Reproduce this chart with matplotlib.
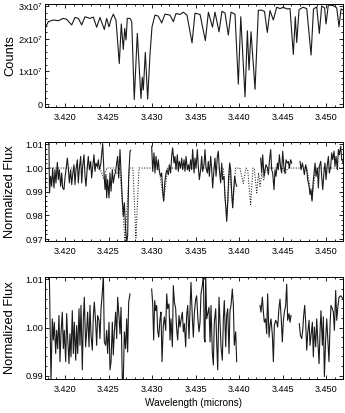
import numpy as np
import matplotlib
matplotlib.use("Agg")
import matplotlib.pyplot as plt
from matplotlib.ticker import MultipleLocator, FuncFormatter, FormatStrFormatter

plt.rcParams['font.family'] = ['Liberation Sans', 'DejaVu Sans']
plt.rcParams['mathtext.fontset'] = 'custom'
plt.rcParams['mathtext.rm'] = 'Liberation Sans'

nan = float('nan')

# --- top panel: raw counts (units of 1e7) ---
wl_counts = [3.41770, 3.41808, 3.41865, 3.41923, 3.41980, 3.42019, 3.42077, 3.42115, 3.42153, 3.42192,
             3.42230, 3.42287, 3.42325, 3.42364, 3.42402, 3.42452, 3.42479, 3.42506, 3.42529, 3.42555,
             3.42586, 3.42624, 3.42647, 3.42670, 3.42686, 3.42701, 3.42716, 3.42747, 3.42767, 3.42796,
             3.42831, 3.42873, 3.42888, 3.42900, 3.42923, 3.42950, 3.42977, 3.43000, 3.43034, 3.43072,
             3.43111, 3.43149, 3.43207, 3.43245, 3.43276, 3.43322, 3.43360, 3.43402, 3.43460, 3.43494,
             3.43552, 3.43613, 3.43648, 3.43695, 3.43724, 3.43770, 3.43804, 3.43839, 3.43877, 3.43908,
             3.43954, 3.43992, 3.44020, 3.44069, 3.44096, 3.44115, 3.44138, 3.44184, 3.44222, 3.44264,
             3.44293, 3.44325, 3.44356, 3.44394, 3.44433, 3.44471, 3.44509, 3.44551, 3.44586, 3.44624,
             3.44647, 3.44663, 3.44690, 3.44736, 3.44778, 3.44828, 3.44856, 3.44893, 3.44923, 3.44950,
             3.44983, 3.45000, 3.45026, 3.45084, 3.45123, 3.45149, 3.45172, 3.45195]
counts_e7 = [2.31, 2.52, 2.57, 2.55, 2.62, 2.59, 2.42, 2.65, 2.62, 2.42,
             2.67, 2.62, 2.66, 2.35, 2.65, 2.28, 2.62, 2.36, 2.59, 2.75,
             2.57, 1.24, 2.45, 1.67, 2.31, 1.96, 2.62, 2.62, 2.52, 0.14,
             2.16, 0.17, 0.82, 0.43, 1.58, 0.15, 1.53, 2.36, 2.72, 2.69,
             2.48, 2.75, 2.72, 2.52, 2.77, 2.74, 2.81, 2.72, 1.87, 2.78,
             2.74, 1.94, 2.81, 2.35, 2.81, 2.21, 2.84, 2.78, 2.11, 2.81,
             2.75, 0.61, 2.67, 0.22, 2.24, 1.04, 2.21, 0.45, 2.87, 2.87,
             2.83, 2.19, 2.86, 2.57, 2.96, 2.92, 2.96, 2.91, 2.92, 1.52,
             2.67, 1.88, 2.89, 2.96, 2.92, 1.50, 2.91, 2.97, 2.16, 3.00,
             2.94, 2.45, 3.03, 3.01, 2.94, 2.36, 2.91, 2.87]

# --- middle panel: normalized observed flux (nan = gap) ---
wl_obs = [3.41815, 3.41822, 3.41835, 3.41847, 3.41858, 3.41873, 3.41885, 3.41896, 3.41912, 3.41923,
          3.41935, 3.41950, 3.41962, 3.41973, 3.41988, 3.42000, 3.42011, 3.42027, 3.42038, 3.42050,
          3.42065, 3.42077, 3.42088, 3.42103, 3.42115, 3.42126, 3.42142, 3.42153, 3.42165, 3.42180,
          3.42192, 3.42203, 3.42218, 3.42230, 3.42241, 3.42257, 3.42268, 3.42280, 3.42295, 3.42306,
          3.42318, 3.42333, 3.42345, 3.42356, 3.42372, 3.42383, 3.42395, 3.42410, 3.42421, 3.42433,
          3.42448, 3.42460, 3.42471, 3.42479, 3.42490, 3.42506, 3.42517, 3.42529, 3.42544, 3.42555,
          3.42567, 3.42582, 3.42594, 3.42605, 3.42617, 3.42632, 3.42644, 3.42659, 3.42670, 3.42682,
          3.42697, 3.42709, 3.42720, 3.42732, 3.42747, 3.42755, nan,
          3.42996, 3.43008, 3.43023, 3.43034, 3.43046, 3.43061, 3.43073, 3.43084, 3.43100, 3.43111,
          3.43123, 3.43134, 3.43146, 3.43161, 3.43172, 3.43188, 3.43199, 3.43214, 3.43226, 3.43237,
          3.43253, 3.43264, 3.43276, 3.43291, 3.43303, 3.43314, 3.43329, 3.43341, 3.43352, 3.43368,
          3.43379, 3.43391, 3.43406, 3.43418, 3.43429, 3.43444,
          3.43456, 3.43467, 3.43483, 3.43494, 3.43506, 3.43521, 3.43532, 3.43544, 3.43559, 3.43571,
          3.43582, 3.43598, 3.43609, 3.43621, 3.43636, 3.43647, 3.43659, 3.43674, 3.43686, 3.43697,
          3.43713, 3.43724, 3.43736, 3.43751, 3.43762, 3.43774, 3.43789, 3.43801, 3.43812, 3.43828,
          3.43839, 3.43851, 3.43858, 3.43870, 3.43881, 3.43893, 3.43904, 3.43916, 3.43927, 3.43939,
          3.43950, 3.43962, 3.43973, nan,
          3.44249, 3.44261, 3.44272, 3.44287, 3.44299, 3.44310, 3.44326, 3.44337, 3.44349, 3.44364,
          3.44375, 3.44387, 3.44402, 3.44414, 3.44425, 3.44441, 3.44452, 3.44464, 3.44479, 3.44490,
          3.44502, 3.44517, 3.44529, 3.44540, 3.44555, 3.44567, 3.44578, 3.44594, 3.44605, nan,
          3.44701, 3.44713, 3.44728, 3.44739, 3.44751, 3.44766, 3.44778, 3.44789, 3.44805, 3.44816,
          3.44828, 3.44839, 3.44851, 3.44862, 3.44874, 3.44885, 3.44900, 3.44912, 3.44923, 3.44939,
          3.44950, 3.44962, 3.44977, 3.44988, 3.45000, 3.45015, 3.45027, 3.45038, 3.45054, 3.45065,
          3.45077, 3.45092, 3.45103, 3.45115, 3.45130, 3.45142, 3.45153, 3.45169, 3.45180, 3.45199]
flux_obs = [1.0108, 0.9895, 0.9965, 0.9923, 1.0000, 0.9916, 0.9993, 0.9937, 1.0024, 0.9951,
            0.9993, 0.9923, 0.9979, 0.9916, 0.9909, 0.9958, 0.9993, 1.0042, 1.0000, 0.9937,
            0.9993, 0.9930, 0.9972, 1.0014, 0.9930, 0.9993, 1.0035, 0.9937, 1.0000, 1.0049,
            0.9937, 1.0007, 1.0056, 0.9965, 0.9923, 1.0007, 1.0049, 0.9993, 1.0028, 0.9958,
            1.0000, 1.0056, 0.9986, 1.0021, 1.0005, 1.0035, 0.9993, 1.0014, 1.0056, 1.0103,
            0.9979, 0.9909, 0.9972, 0.9874, 0.9951, 0.9874, 0.9979, 0.9902, 0.9993, 0.9937,
            0.9965, 0.9986, 1.0021, 1.0049, 0.9958, 1.0078, 0.9979, 0.9867, 0.9797, 0.9853,
            0.9741, 0.9687, 0.9713, 0.9965, 1.0071, 1.0075, nan,
            1.0092, 0.9986, 1.0064, 0.9979, 1.0049, 0.9993, 1.0035, 0.9986, 0.9965, 0.9979,
            0.9902, 0.9860, 0.9937, 0.9979, 0.9993, 0.9972, 1.0014, 0.9979, 1.0049, 1.0085,
            1.0021, 1.0049, 0.9993, 1.0056, 0.9986, 1.0028, 1.0000, 1.0042, 0.9993, 1.0035,
            0.9986, 1.0049, 0.9993, 1.0014, 0.9986, 1.0035,
            0.9993, 1.0078, 0.9979, 1.0042, 1.0000, 1.0078, 1.0007, 0.9951, 0.9993, 1.0049,
            0.9986, 1.0014, 1.0078, 1.0000, 0.9979, 1.0028, 0.9965, 1.0049, 0.9993, 0.9916,
            1.0000, 1.0042, 0.9965, 1.0049, 1.0071, 0.9993, 0.9937, 1.0021, 0.9951, 0.9965,
            0.9874, 0.9825, 0.9776, 0.9853, 0.9965, 1.0021, 0.9993, 0.9895, 0.9832, 0.9909,
            0.9965, 0.9937, 0.9923, nan,
            1.0042, 0.9979, 1.0056, 0.9965, 0.9993, 1.0014, 1.0000, 0.9972, 1.0028, 1.0078,
            0.9993, 0.9979, 0.9909, 0.9993, 0.9965, 1.0021, 0.9993, 1.0056, 1.0000, 0.9979,
            1.0071, 1.0000, 0.9979, 1.0035, 1.0021, 1.0028, 1.0000, 1.0035, 1.0021, nan,
            1.0028, 0.9993, 1.0021, 1.0000, 0.9972, 1.0014, 0.9993, 0.9951, 0.9923, 0.9888,
            0.9909, 0.9860, 0.9937, 0.9979, 1.0021, 0.9965, 1.0000, 0.9916, 1.0007, 1.0028,
            0.9965, 0.9909, 0.9986, 1.0021, 0.9951, 1.0014, 1.0049, 0.9979, 1.0007, 1.0064,
            1.0035, 1.0071, 1.0007, 1.0049, 0.9993, 1.0078, 1.0056, 1.0092, 1.0035, 1.0021]

# --- middle panel: model (dotted) ---
wl_model = [3.41770, 3.42400, 3.42445, 3.42480, 3.42560, 3.42595, 3.42630, 3.42690, 3.42740, 3.42780,
            3.42815, 3.42850, 3.43080, 3.43134, 3.43180, 3.43820, 3.43858, 3.43893, 3.43927, 3.43960,
            3.44010, 3.44049, 3.44080, 3.44100, 3.44134, 3.44160, 3.44176, 3.44203, 3.44225, 3.44241,
            3.44262, 3.44285, 3.44305, 3.44330, 3.44500, 3.44530, 3.44560, 3.44780, 3.44839, 3.44880,
            3.45195]
flux_model = [1.0, 1.0, 0.9955, 1.0, 1.0, 0.9975, 1.0, 0.9690, 1.0, 1.0,
              0.9705, 1.0, 1.0, 0.9860, 1.0, 1.0, 0.9776, 0.9995, 0.9832, 1.0,
              1.0, 0.9935, 1.0, 0.9990, 0.9846, 1.0, 0.9995, 0.9895, 0.9980, 0.9923,
              0.9975, 0.9950, 0.9990, 1.0, 1.0, 0.9975, 1.0, 1.0, 0.9865, 1.0,
              1.0]

# --- bottom panel: corrected flux (nan = gap) ---
wl_corr = [3.41820, 3.41839, 3.41854, 3.41866, 3.41877, 3.41893, 3.41904, 3.41916, 3.41931, 3.41942,
           3.41954, 3.41969, 3.41981, 3.41992, 3.42008, 3.42019, 3.42031, 3.42046, 3.42057, 3.42069,
           3.42084, 3.42096, 3.42107, 3.42123, 3.42134, 3.42146, 3.42161, 3.42172, 3.42184, 3.42199,
           3.42211, 3.42222, 3.42237, 3.42249, 3.42260, 3.42276, 3.42287, 3.42299, 3.42314, 3.42326,
           3.42337, 3.42352, 3.42364, 3.42375, 3.42391, 3.42402, 3.42414, 3.42429, 3.42441, 3.42452,
           3.42467, 3.42479, 3.42490, 3.42506, 3.42517, 3.42529, 3.42544, 3.42555, 3.42567, 3.42582,
           3.42594, 3.42605, 3.42621, 3.42632, 3.42644, 3.42659, 3.42670, 3.42682, 3.42697, 3.42709,
           3.42720, 3.42732, 3.42747, nan,
           3.42996, 3.43008, 3.43019, 3.43031, 3.43042, 3.43054, 3.43065, 3.43077, 3.43092, 3.43103,
           3.43115, 3.43130, 3.43142, 3.43157, 3.43169, 3.43180, 3.43195, 3.43207, 3.43218, 3.43234,
           3.43245, 3.43257, 3.43272, 3.43283, 3.43295, 3.43310, 3.43322, 3.43333, 3.43349, 3.43360,
           3.43372, 3.43387, 3.43398, 3.43410, 3.43425,
           3.43448, 3.43464, 3.43475, 3.43487, 3.43502, 3.43513, 3.43525, 3.43540, 3.43552, 3.43563,
           3.43578, 3.43590, 3.43601, 3.43609, 3.43617, 3.43628, 3.43640, 3.43655, 3.43667, 3.43678,
           3.43693, 3.43705, 3.43716, 3.43732, 3.43743, 3.43755, 3.43770, 3.43782, 3.43793, 3.43808,
           3.43820, 3.43831, 3.43847, 3.43858, 3.43870, 3.43885, 3.43896, 3.43908, 3.43923, 3.43935,
           3.43946, 3.43962, 3.43973, nan,
           3.44241, 3.44253, 3.44268, 3.44280, 3.44291, 3.44306, 3.44318, 3.44329, 3.44345, 3.44356,
           3.44368, 3.44383, 3.44395, 3.44406, 3.44421, 3.44433, 3.44444, 3.44460, 3.44471, 3.44483,
           3.44498, 3.44510, 3.44521, 3.44536, 3.44548, 3.44559, 3.44575, 3.44586, 3.44598, nan,
           3.44693, 3.44705, 3.44720, 3.44732, 3.44743, 3.44755, 3.44766, 3.44778, 3.44789, 3.44805,
           3.44816, 3.44828, 3.44843, 3.44854, 3.44866, 3.44881, 3.44893, 3.44904, 3.44920, 3.44931,
           3.44942, 3.44958, 3.44969, 3.44981, 3.44996, 3.45008, 3.45019, 3.45034, 3.45046, 3.45057,
           3.45073, 3.45084, 3.45096, 3.45111, 3.45123, 3.45134, 3.45149, 3.45169, 3.45199]
flux_corr = [1.0110, 0.9890, 1.0018, 0.9974, 1.0011, 0.9946, 0.9994, 0.9956, 1.0025, 0.9929,
             0.9987, 1.0032, 0.9956, 0.9994, 0.9929, 1.0029, 0.9977, 0.9925, 0.9987, 0.9939,
             1.0035, 0.9946, 1.0011, 0.9932, 1.0004, 0.9946, 1.0039, 0.9963, 1.0046, 0.9912,
             1.0018, 1.0063, 0.9960, 0.9991, 1.0032, 0.9960, 1.0046, 0.9984, 0.9953, 1.0025,
             1.0053, 1.0011, 0.9963, 1.0025, 1.0015, 0.9977, 1.0039, 1.0073, 1.0110, 0.9970,
             0.9963, 0.9994, 0.9946, 1.0011, 0.9912, 0.9929, 1.0011, 0.9943, 0.9991, 1.0032,
             0.9977, 1.0063, 1.0022, 0.9987, 1.0042, 0.9885, 0.9890, 0.9991, 0.9956, 1.0018,
             0.9949, 1.0053, 1.0070, nan,
             1.0080, 1.0049, 0.9974, 1.0056, 1.0035, 1.0046, 0.9994, 0.9980, 1.0018, 1.0032,
             0.9929, 1.0004, 1.0022, 0.9994, 1.0070, 1.0039, 1.0049, 0.9974, 1.0018, 0.9960,
             1.0087, 1.0053, 1.0039, 0.9998, 0.9974, 1.0025, 1.0001, 1.0015, 1.0032, 0.9991,
             1.0008, 0.9960, 1.0025, 1.0046, 0.9977,
             1.0094, 1.0018, 0.9980, 1.0032, 1.0059, 1.0066, 1.0025, 0.9991, 1.0011, 1.0070,
             1.0087, 1.0110, 0.9977, 0.9970, 1.0110, 1.0018, 1.0029, 1.0042, 0.9970, 1.0046,
             0.9949, 0.9922, 1.0011, 1.0039, 0.9970, 0.9912, 1.0063, 1.0011, 0.9960, 0.9932,
             1.0018, 1.0056, 0.9960, 1.0025, 1.0039, 0.9946, 1.0035, 1.0046, 1.0080, 1.0046,
             0.9963, 0.9991, 0.9929, nan,
             1.0046, 1.0032, 1.0063, 1.0032, 1.0011, 1.0018, 0.9987, 1.0070, 0.9980, 1.0004,
             1.0018, 0.9984, 0.9929, 1.0004, 1.0015, 1.0011, 1.0001, 1.0042, 1.0059, 1.0025,
             0.9970, 1.0015, 1.0032, 1.0046, 1.0090, 1.0015, 1.0029, 1.0011, 1.0025, nan,
             1.0008, 0.9984, 0.9977, 0.9994, 1.0025, 1.0046, 1.0011, 0.9953, 0.9987, 1.0015,
             0.9963, 0.9984, 1.0011, 0.9939, 1.0001, 0.9960, 1.0018, 0.9977, 0.9925, 0.9991,
             1.0035, 0.9963, 1.0022, 0.9898, 0.9977, 1.0018, 0.9980, 0.9929, 1.0004, 1.0046,
             1.0039, 1.0032, 0.9994, 1.0077, 1.0015, 1.0039, 1.0063, 1.0066, 1.0059]

assert len(wl_counts) == len(counts_e7)
assert len(wl_obs) == len(flux_obs)
assert len(wl_model) == len(flux_model)
assert len(wl_corr) == len(flux_corr)

XLIM = (3.4177, 3.45195)
LINE = '#1a1a1a'


def counts_label(v, pos):
    n = int(round(v / 1e7))
    if n == 0:
        return '0'
    return r'%dx10$^{7}$' % n


def style_axis(ax, ymajor, yminor):
    ax.set_xlim(*XLIM)
    ax.xaxis.set_major_locator(MultipleLocator(0.005))
    ax.xaxis.set_minor_locator(MultipleLocator(0.001))
    ax.xaxis.set_major_formatter(FormatStrFormatter('%.3f'))
    ax.yaxis.set_major_locator(MultipleLocator(ymajor))
    ax.yaxis.set_minor_locator(MultipleLocator(yminor))
    ax.tick_params(which='both', direction='in', top=True, right=True,
                   width=0.6, labelsize=6.6, colors='k')
    ax.tick_params(which='major', length=3.2)
    ax.tick_params(which='minor', length=1.6)
    ax.tick_params(axis='x', pad=4)
    ax.tick_params(axis='y', pad=1.5)
    for s in ax.spines.values():
        s.set_linewidth(0.7)
    ax.yaxis.set_label_coords(-0.097, 0.5)


fig = plt.figure(figsize=(3.45, 4.13), dpi=100)
ax1 = fig.add_axes([0.1304, 0.7409, 0.8638, 0.2494])
ax2 = fig.add_axes([0.1304, 0.4165, 0.8638, 0.2397])
ax3 = fig.add_axes([0.1304, 0.0823, 0.8638, 0.2470])

ax1.plot(wl_counts, np.array(counts_e7) * 1e7, color=LINE, lw=0.8)
style_axis(ax1, 1e7, 2e6)
ax1.set_ylim(-0.09e7, 3.06e7)
ax1.yaxis.set_major_formatter(FuncFormatter(counts_label))
ax1.set_ylabel('Counts', fontsize=9.3)

ax2.plot(wl_model, flux_model, color=LINE, lw=0.75, ls=(0, (1, 1.5)))
ax2.plot(wl_obs, flux_obs, color=LINE, lw=0.8)
style_axis(ax2, 0.01, 0.002)
ax2.set_ylim(0.9692, 1.0110)
ax2.yaxis.set_major_formatter(FormatStrFormatter('%.2f'))
ax2.set_ylabel('Normalized Flux', fontsize=9.3)

ax3.plot(wl_corr, flux_corr, color=LINE, lw=0.8)
style_axis(ax3, 0.01, 0.002)
ax3.set_ylim(0.9893, 1.0105)
ax3.yaxis.set_major_formatter(FormatStrFormatter('%.2f'))
ax3.set_ylabel('Normalized Flux', fontsize=9.3)
ax3.set_xlabel('Wavelength (microns)', fontsize=7.2, labelpad=3)

fig.savefig('out.png', dpi=100)
